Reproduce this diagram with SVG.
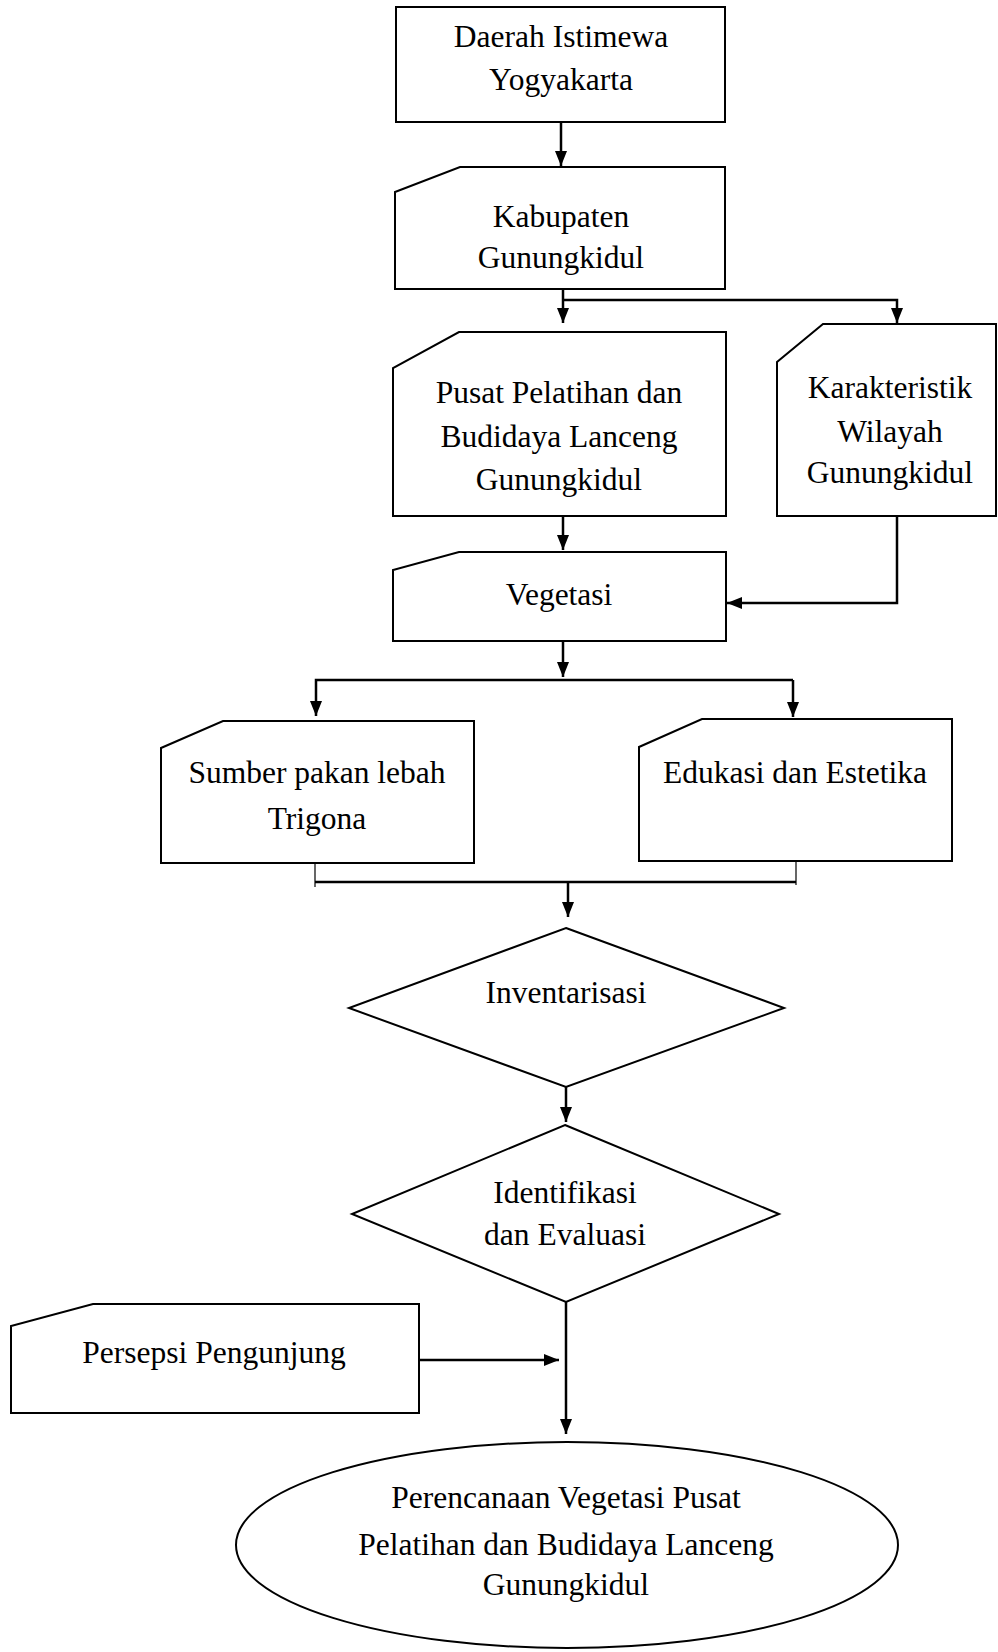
<svg xmlns="http://www.w3.org/2000/svg" width="998" height="1652" viewBox="0 0 998 1652">
<style>
.n{fill:#fff;stroke:#000;stroke-width:2}
.t{font-family:"Liberation Serif","Times New Roman",serif;font-size:31.5px;fill:#000;text-anchor:middle}
.c{fill:none;stroke:#000;stroke-width:2.5}
.thin{fill:none;stroke:#000;stroke-width:1.2}
</style>
<defs>
<marker id="ah" viewBox="0 0 15 12" refX="15" refY="6" markerWidth="15" markerHeight="12" markerUnits="userSpaceOnUse" orient="auto">
<path d="M0,0 L15,6 L0,12 z" fill="#000"/>
</marker>
</defs>
<rect width="998" height="1652" fill="#fff"/>
<g id="connectors">
<path class="c" d="M561,122 V166" marker-end="url(#ah)"/>
<path class="c" d="M563,289 V323" marker-end="url(#ah)"/>
<path class="c" d="M563,300 H897 V323" marker-end="url(#ah)"/>
<path class="c" d="M563,516 V550" marker-end="url(#ah)"/>
<path class="c" d="M897,516 V603 H727" marker-end="url(#ah)"/>
<path class="c" d="M563,641 V677" marker-end="url(#ah)"/>
<path class="c" d="M793,680 H316 V716" marker-end="url(#ah)"/>
<path class="c" d="M793,680 V717" marker-end="url(#ah)"/>
<path class="thin" d="M315,860 V887"/>
<path class="thin" d="M796,861 V885"/>
<path class="c" d="M315,882 H796"/>
<path class="c" d="M568,882 V917" marker-end="url(#ah)"/>
<path class="c" d="M566,1087 V1122" marker-end="url(#ah)"/>
<path class="c" d="M566,1302 V1434" marker-end="url(#ah)"/>
<path class="c" d="M419,1360 H559" marker-end="url(#ah)"/>
</g>
<g id="n1">
<rect class="n" x="396" y="7" width="329" height="115"/>
<text class="t" x="561" y="47">Daerah Istimewa</text>
<text class="t" x="561" y="90">Yogyakarta</text>
</g>
<g id="n2">
<path class="n" d="M460,167 H725 V289 H395 V192 Z"/>
<text class="t" x="561" y="227">Kabupaten</text>
<text class="t" x="561" y="268">Gunungkidul</text>
</g>
<g id="n3">
<path class="n" d="M459,332 H726 V516 H393 V368 Z"/>
<text class="t" x="559" y="403">Pusat Pelatihan dan</text>
<text class="t" x="559" y="447">Budidaya Lanceng</text>
<text class="t" x="559" y="490">Gunungkidul</text>
</g>
<g id="n4">
<path class="n" d="M823,324 H996 V516 H777 V362 Z"/>
<text class="t" x="890" y="398">Karakteristik</text>
<text class="t" x="890" y="442">Wilayah</text>
<text class="t" x="890" y="483">Gunungkidul</text>
</g>
<g id="n5">
<path class="n" d="M459,552 H726 V641 H393 V570 Z"/>
<text class="t" x="559" y="605">Vegetasi</text>
</g>
<g id="n6">
<path class="n" d="M223,721 H474 V863 H161 V748 Z"/>
<text class="t" x="317" y="783">Sumber pakan lebah</text>
<text class="t" x="317" y="829">Trigona</text>
</g>
<g id="n7">
<path class="n" d="M702,719 H952 V861 H639 V747 Z"/>
<text class="t" x="795" y="783">Edukasi dan Estetika</text>
</g>
<g id="n8">
<path class="n" d="M566,928 L784,1008 L566,1087 L349,1008 Z"/>
<text class="t" x="566" y="1003">Inventarisasi</text>
</g>
<g id="n9">
<path class="n" d="M565,1125 L779,1214 L566,1302 L352,1214 Z"/>
<text class="t" x="565" y="1203">Identifikasi</text>
<text class="t" x="565" y="1245">dan Evaluasi</text>
</g>
<g id="n10">
<path class="n" d="M93,1304 H419 V1413 H11 V1326 Z"/>
<text class="t" x="214" y="1363">Persepsi Pengunjung</text>
</g>
<g id="n11">
<ellipse class="n" cx="567" cy="1545" rx="331" ry="103"/>
<text class="t" x="566" y="1508">Perencanaan Vegetasi Pusat</text>
<text class="t" x="566" y="1555">Pelatihan dan Budidaya Lanceng</text>
<text class="t" x="566" y="1595">Gunungkidul</text>
</g>
</svg>
